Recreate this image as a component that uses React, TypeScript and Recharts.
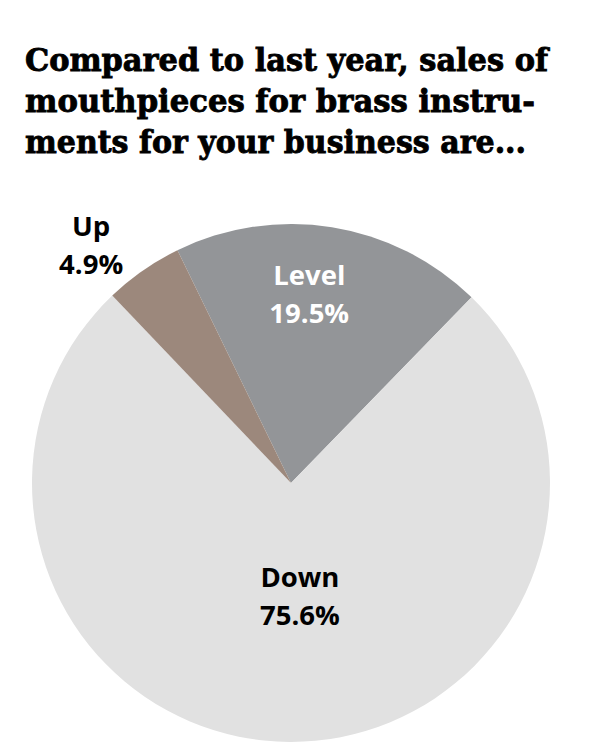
import { PieChart, Pie, Cell } from "recharts";

const categories = ["Level", "Down", "Up"];
const shares = [19.5, 75.6, 4.9];
const titleLines = [
  "Compared to last year, sales of",
  "mouthpieces for brass instru-",
  "ments for your business are...",
];

const data = categories.map((name, i) => ({ name, value: shares[i] }));

const COLORS: Record<string, string> = {
  Level: "#939598",
  Down: "#e1e1e1",
  Up: "#9c887c",
};
const LABEL_COLORS: Record<string, string> = {
  Level: "#ffffff",
  Down: "#000000",
  Up: "#000000",
};
// radius factor and angle nudge per label
const LABEL_POS: Record<string, { r: number; da: number }> = {
  Level: { r: 0.735, da: 3.6 },
  Down: { r: 0.435, da: 4.8 },
  Up: { r: 1.2, da: 5.2 },
};

const RAD = Math.PI / 180;

const renderLabel = (props: any) => {
  const { cx, cy, midAngle, outerRadius, name, value } = props;
  const pos = LABEL_POS[name];
  const a = (midAngle + pos.da) * RAD;
  const r = outerRadius * pos.r;
  const x = cx + r * Math.cos(a);
  const y = cy - r * Math.sin(a);
  return (
    <text
      x={x}
      y={y}
      fill={LABEL_COLORS[name]}
      textAnchor="middle"
      fontFamily="'Open Sans', sans-serif"
      fontWeight={700}
      fontSize={27.5}
    >
      <tspan x={x} y={y - 19} dominantBaseline="central">
        {name}
      </tspan>
      <tspan x={x} y={y + 19} dominantBaseline="central">
        {value.toFixed(1)}%
      </tspan>
    </text>
  );
};

const titleWidths = [523, 510, 501];
const titleBaselines = [71, 112, 153];

export default function App() {
  return (
    <div
      style={{
        position: "absolute",
        left: 0,
        top: 0,
        width: 600,
        height: 750,
        background: "#ffffff",
      }}
    >
      <svg
        width={600}
        height={180}
        style={{ position: "absolute", left: 0, top: 0 }}
      >
        {titleLines.map((line, i) => (
          <text
            key={i}
            x={25}
            y={titleBaselines[i]}
            textLength={titleWidths[i]}
            lengthAdjust="spacingAndGlyphs"
            fontFamily="'DejaVu Serif', serif"
            fontWeight={700}
            fontSize={32}
            fill="#000000"
            stroke="#000000"
            strokeWidth={0.9}
          >
            {line}
          </text>
        ))}
      </svg>
      <div style={{ position: "absolute", left: 0, top: 0 }}>
        <PieChart
          width={600}
          height={750}
          margin={{ top: 0, right: 0, bottom: 0, left: 0 }}
        >
          <Pie
            data={data}
            dataKey="value"
            nameKey="name"
            cx={291}
            cy={483}
            outerRadius={259}
            startAngle={116}
            endAngle={-244}
            stroke="none"
            labelLine={false}
            label={renderLabel}
            isAnimationActive={false}
          >
            {data.map((d) => (
              <Cell key={d.name} fill={COLORS[d.name]} />
            ))}
          </Pie>
        </PieChart>
      </div>
    </div>
  );
}
